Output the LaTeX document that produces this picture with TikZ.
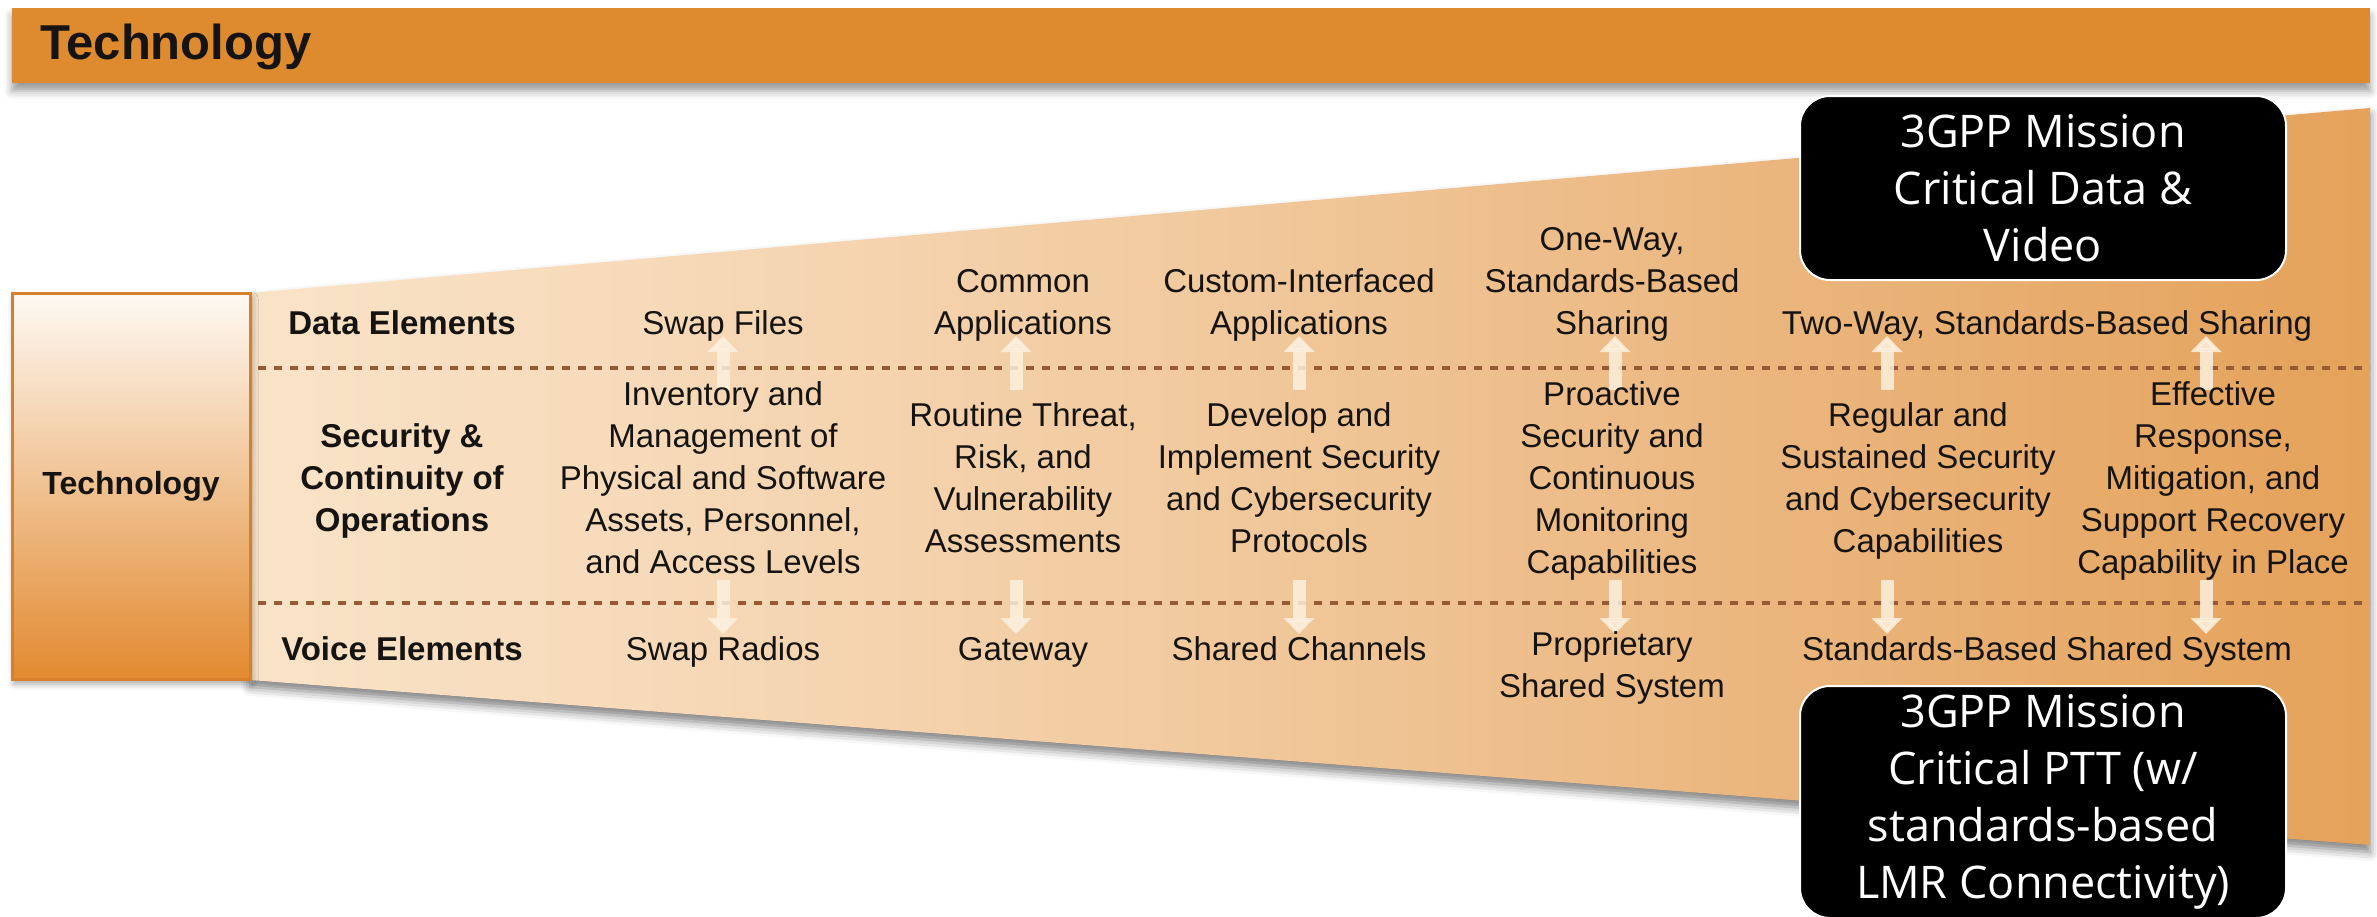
\documentclass[tikz,border=0pt]{standalone}
\usepackage{fontspec}
\setmainfont{Liberation Sans}
\newfontfamily\boxfont{Open Sans}
\usetikzlibrary{arrows.meta,shadows.blur}
\definecolor{bannerc}{RGB}{221,139,46}
\definecolor{w0}{RGB}{255,253,250}
\definecolor{w1}{RGB}{251,232,208}
\definecolor{w2}{RGB}{246,216,182}
\definecolor{w3}{RGB}{240,198,152}
\definecolor{w4}{RGB}{233,177,118}
\definecolor{w5}{RGB}{227,158,82}
\definecolor{w6}{RGB}{222,142,52}
\definecolor{boxtop}{RGB}{254,249,243}
\definecolor{boxbot}{RGB}{226,138,48}
\definecolor{boxedge}{RGB}{214,128,44}
\definecolor{dashc}{RGB}{150,90,52}
\definecolor{arrc}{RGB}{252,240,222}
\definecolor{txt}{RGB}{22,20,18}
\pgfdeclarehorizontalshading{wedgeshade}{100bp}{color(0bp)=(w0); color(20bp)=(w1); color(36bp)=(w2); color(50bp)=(w3); color(64bp)=(w4); color(78bp)=(w5); color(100bp)=(w6)}
\tikzset{
  body/.style={font=\fontsize{33}{42}\selectfont, text=txt, align=center, inner sep=0pt,
    execute at begin node=\strut, execute at end node=\strut},
  rowlabel/.style={body, font=\fontsize{33}{42}\selectfont\bfseries},
  blackbox/.style={fill=black, draw=white, line width=2pt, rounded corners=30pt,
    text=white, align=center, font=\boxfont\fontsize{45}{57}\selectfont, minimum width=486pt},
  divider/.style={draw=dashc, line width=4.5pt, dash pattern=on 8pt off 8pt},
  uparr/.style={draw=arrc, opacity=0.85, line width=13pt, -{Triangle[length=16pt,width=30pt]}},
}
\begin{document}
\begin{tikzpicture}[x=1pt,y=-1pt]
\useasboundingbox (0,0) rectangle (2377,916);
% wedge
\path[shading=wedgeshade, blur shadow={shadow xshift=0pt, shadow yshift=-7pt, shadow blur radius=9pt, shadow opacity=50}]
  (250,293) -- (2370,108) -- (2370,845) -- (250,680) -- cycle;
% banner
\path[fill=bannerc, blur shadow={shadow xshift=0pt, shadow yshift=-8pt, shadow blur radius=8pt, shadow opacity=40}]
  (12,8) rectangle (2370,83);
\node[anchor=west, text=txt, font=\fontsize{49}{56}\selectfont\bfseries, inner sep=0pt] (title) at (40,47) {Technology};
% left box
\path[top color=boxtop, bottom color=boxbot, draw=boxedge, line width=3pt,
  blur shadow={shadow xshift=2pt, shadow yshift=-5pt, shadow blur radius=6pt, shadow opacity=35}]
  (12,293) rectangle (250,679);
\node[rowlabel, font=\fontsize{32}{40}\selectfont\bfseries] (tech) at (131,486) {Technology};
% dividers
\coordinate (dl1) at (258,368);
\coordinate (dr1) at (2370,368);
\coordinate (dl2) at (258,603);
\coordinate (dr2) at (2370,603);
\draw[divider] (dl1) -- (dr1);
\draw[divider] (dl2) -- (dr2);
% arrows
\foreach \n/\x in {1/723,2/1016,3/1299,4/1615,5/1887,6/2206}{
  \coordinate (ua\n) at (\x,390);
  \coordinate (ub\n) at (\x,336);
  \coordinate (da\n) at (\x,580);
  \coordinate (db\n) at (\x,634);
  \draw[uparr] (ua\n) -- (ub\n);
  \draw[uparr] (da\n) -- (db\n);
}
% row labels
\node[rowlabel, anchor=south] (dataL) at (402,347) {Data Elements};
\node[rowlabel] (secL) at (402,484) {Security \&\\Continuity of\\Operations};
\node[rowlabel, anchor=north] (voiceL) at (402,631) {Voice Elements};
% data row
\node[body, anchor=south] (d1) at (723,347) {Swap Files};
\node[body, anchor=south] (d2) at (1023,347) {Common\\Applications};
\node[body, anchor=south] (d3) at (1299,347) {Custom-Interfaced\\Applications};
\node[body, anchor=south] (d4) at (1612,347) {One-Way,\\Standards-Based\\Sharing};
\node[body, anchor=south] (d5) at (2047,347) {Two-Way, Standards-Based Sharing};
% security row
\node[body] (s1) at (723,484) {Inventory and\\Management of\\Physical and Software\\Assets, Personnel,\\and Access Levels};
\node[body] (s2) at (1023,484) {Routine Threat,\\Risk, and\\Vulnerability\\Assessments};
\node[body] (s3) at (1299,484) {Develop and\\Implement Security\\and Cybersecurity\\Protocols};
\node[body] (s4) at (1612,484) {Proactive\\Security and\\Continuous\\Monitoring\\Capabilities};
\node[body] (s5) at (1918,484) {Regular and\\Sustained Security\\and Cybersecurity\\Capabilities};
\node[body] (s6) at (2213,484) {Effective\\Response,\\Mitigation, and\\Support Recovery\\Capability in Place};
% voice row
\node[body, anchor=north] (v1) at (723,631) {Swap Radios};
\node[body, anchor=north] (v2) at (1023,631) {Gateway};
\node[body, anchor=north] (v3) at (1299,631) {Shared Channels};
\node[body, anchor=north] (v4) at (1612,631) {Proprietary\\Shared System};
\node[body, anchor=north] (v5) at (2047,631) {Standards-Based Shared System};
% black boxes
\node[blackbox, minimum height=184pt] (mcdata) at (2043,188) {3GPP Mission\\Critical Data \&\\Video};
\node[blackbox, minimum height=232pt] (mcptt) at (2043,802) {3GPP Mission\\Critical PTT (w/\\standards-based\\LMR Connectivity)};
\end{tikzpicture}
\end{document}
